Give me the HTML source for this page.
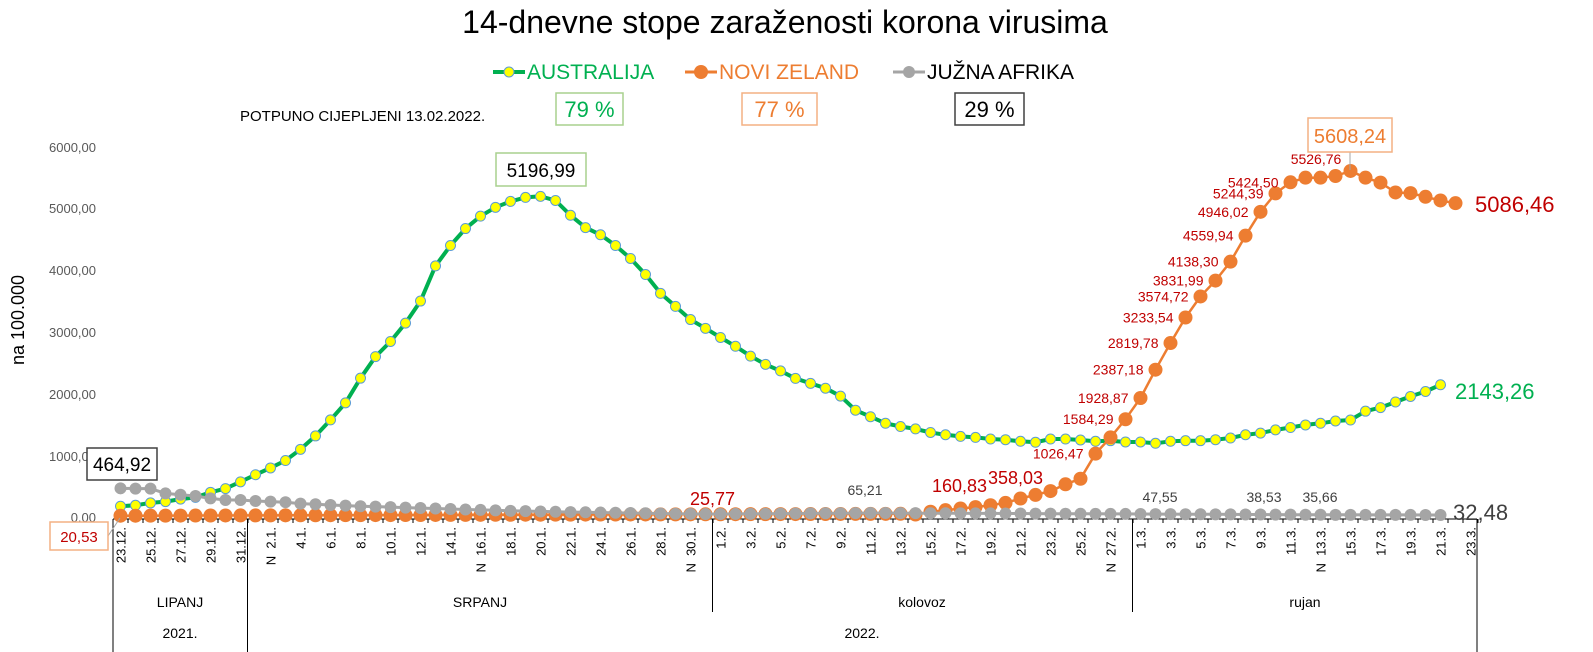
<!DOCTYPE html>
<html><head><meta charset="utf-8">
<style>
html,body{margin:0;padding:0;background:#fff;}
svg{display:block;font-family:"Liberation Sans",sans-serif;}
</style></head>
<body>
<svg id="s" width="1593" height="652" viewBox="0 0 1593 652" xmlns="http://www.w3.org/2000/svg">
<text x="785" y="33" text-anchor="middle" font-size="32" fill="#000">14-dnevne stope zaraženosti korona virusima</text>
<!-- legend -->
<line x1="493" y1="72" x2="525" y2="72" stroke="#00B050" stroke-width="4"/>
<circle cx="509" cy="72" r="5" fill="#FFFF00" stroke="#5B9BD5" stroke-width="1"/>
<text x="527" y="79" font-size="21" fill="#00B050">AUSTRALIJA</text>
<line x1="685" y1="72" x2="717" y2="72" stroke="#ED7D31" stroke-width="3"/>
<circle cx="701" cy="72" r="7" fill="#ED7D31"/>
<text x="719" y="79" font-size="21" fill="#ED7D31">NOVI ZELAND</text>
<line x1="893" y1="72" x2="925" y2="72" stroke="#A5A5A5" stroke-width="3"/>
<circle cx="909" cy="72" r="6" fill="#A5A5A5"/>
<text x="927" y="79" font-size="21" fill="#000">JUŽNA AFRIKA</text>
<text x="240" y="121" font-size="15" fill="#000">POTPUNO CIJEPLJENI 13.02.2022.</text>
<rect x="556" y="93" width="67" height="32" fill="#fff" stroke="#A9D18E" stroke-width="1.5"/>
<text x="589.5" y="117" text-anchor="middle" font-size="22" fill="#00B050">79 %</text>
<rect x="742" y="93" width="75" height="32" fill="#fff" stroke="#F4B183" stroke-width="1.5"/>
<text x="779.5" y="117" text-anchor="middle" font-size="22" fill="#ED7D31">77 %</text>
<rect x="955" y="93" width="69" height="32" fill="#fff" stroke="#404040" stroke-width="1.5"/>
<text x="989.5" y="117" text-anchor="middle" font-size="22" fill="#000">29 %</text>
<!-- y axis -->
<g font-size="13" fill="#595959" text-anchor="end">
<text x="96" y="152">6000,00</text>
<text x="96" y="213">5000,00</text>
<text x="96" y="275">4000,00</text>
<text x="96" y="337">3000,00</text>
<text x="96" y="399">2000,00</text>
<text x="96" y="461">1000,00</text>
<text x="96" y="522">0,00</text>
</g>
<text transform="translate(24,320) rotate(-90)" text-anchor="middle" font-size="18" fill="#000">na 100.000</text>
<g id="axis" stroke="#000" stroke-width="1"></g>
<g id="series"></g>
<g id="labels"></g>
</svg>
<script>
var NS="http://www.w3.org/2000/svg";
function el(p,n,a,t){var e=document.createElementNS(NS,n);for(var k in a)e.setAttribute(k,a[k]);if(t!==undefined)e.textContent=t;p.appendChild(e);return e;}
function X(i){return 120.5+i*15;}
function Y(v){return 517-v*0.0617;}
var green=[175,190,228,250,290,318,400,460,570,685,795,915,1097,1314,1574,1850,2250,2600,2845,3143,3500,4070,4400,4675,4876,5019,5115,5180,5197,5130,4890,4690,4574,4400,4190,3930,3625,3413,
3200,3058,2910,2767,2607,2474,2368,2246,2166,2087,1959,1731,1625,1519,1466,1428,1370,1333,1306,1290,1264,1253,1227,1211,1264,1264,1248,1227,1237,1216,1216,1195,1227,1237,1237,1253,1280,1333,1360,1412,1450,1492,1519,1556,1572,1715,1773,1864,1954,2034,2143.26];
var orange=[];
for(var i=0;i<=52;i++){orange.push(20.53+i*0.6);}
orange=orange.concat([40,85,111,138,160.83,191,228,300,358.03,420,530,620,1026.47,1290,1584.29,1928.87,2387.18,2819.78,3233.54,3574.72,3831.99,4138.30,4559.94,4946.02,5244.39,5424.50,5500,5500,5526.76,5608.24,5500,5420,5260,5250,5190,5130,5086.46]);
var grey=[464.92,460,460,382,360,340,302,276,276,260,250,240,217,207,195,185,175,168,160,152,145,138,130,122,115,108,100,95,90,85,80,76,72,68,64,60,56,53,50,48];
while(grey.length<89){var j=grey.length;var v=j<50?48+ (j-40)*1.7:(j<69?65-(j-50)*0.9:(j<80?47.5-(j-69)*1.1:35.6-(j-80)*0.35));grey.push(v);}
grey[88]=32.48;
var ax=document.getElementById('axis');
el(ax,'line',{x1:113,y1:519,x2:1477,y2:519});
for(var i=0;i<=91;i++){var x=113+i*15;el(ax,'line',{x1:x,y1:519,x2:x,y2:523});}
el(ax,'line',{x1:113,y1:519,x2:113,y2:652});
el(ax,'line',{x1:247.5,y1:519,x2:247.5,y2:652});
el(ax,'line',{x1:712.5,y1:519,x2:712.5,y2:612});
el(ax,'line',{x1:1132.5,y1:519,x2:1132.5,y2:612});
el(ax,'line',{x1:1477,y1:519,x2:1477,y2:652});
var lbl=["23.12.","25.12.","27.12.","29.12.","31.12.","N  2.1.","4.1.","6.1.","8.1.","10.1.","12.1.","14.1.","N  16.1.","18.1.","20.1.","22.1.","24.1.","26.1.","28.1.","N  30.1.","1.2.","3.2.","5.2.","7.2.","9.2.","11.2.","13.2.","15.2.","17.2.","19.2.","21.2.","23.2.","25.2.","N  27.2.","1.3.","3.3.","5.3.","7.3.","9.3.","11.3.","N  13.3.","15.3.","17.3.","19.3.","21.3.","23.3."];
var L=document.getElementById('labels');
lbl.forEach(function(t,k){var x=X(k*2)+5;var e=el(L,'text',{transform:'translate('+x+',527) rotate(-90)','text-anchor':'end','font-size':'13',fill:'#000','xml:space':'preserve'},t);e.style.whiteSpace='pre';});
[["LIPANJ",180,607],["SRPANJ",480,607],["kolovoz",922,607],["rujan",1305,607],["2021.",180,638],["2022.",862,638]].forEach(function(a){el(L,'text',{x:a[1],y:a[2],'text-anchor':'middle','font-size':'14',fill:'#000'},a[0]);});
var S=document.getElementById('series');
function series(d,col,w,r,fill,stroke){var p=d.map(function(v,i){return X(i).toFixed(1)+','+Y(v).toFixed(1);}).join(' ');
el(S,'polyline',{points:p,fill:'none',stroke:col,'stroke-width':w,'stroke-linejoin':'round'});
d.forEach(function(v,i){var a={cx:X(i),cy:Y(v),r:r,fill:fill};if(stroke){a.stroke=stroke;a['stroke-width']=1;}el(S,'circle',a);});}
series(green,'#00B050',4,5,'#FFFF00','#5B9BD5');
series(orange,'#ED7D31',2.5,7,'#ED7D31');
series(grey,'#A5A5A5',3,6,'#A5A5A5');
// annotations
el(L,'rect',{x:87,y:448,width:70,height:32,fill:'#fff',stroke:'#404040','stroke-width':1.5});
el(L,'text',{x:122,y:471,'text-anchor':'middle','font-size':'19',fill:'#000'},'464,92');
el(L,'line',{x1:108,y1:536,x2:120,y2:518,stroke:'#A5A5A5'});
el(L,'rect',{x:50,y:522,width:58,height:28,fill:'#fff',stroke:'#F4B183','stroke-width':1.5});
el(L,'text',{x:79,y:542,'text-anchor':'middle','font-size':'15',fill:'#C00000'},'20,53');
el(L,'rect',{x:496,y:153,width:90,height:33,fill:'#fff',stroke:'#A9D18E','stroke-width':1.5});
el(L,'text',{x:541,y:177,'text-anchor':'middle','font-size':'19',fill:'#000'},'5196,99');
el(L,'line',{x1:1350,y1:152,x2:1350,y2:170,stroke:'#A5A5A5'});
el(L,'rect',{x:1308,y:118,width:84,height:34,fill:'#fff',stroke:'#F4B183','stroke-width':1.5});
el(L,'text',{x:1350,y:143,'text-anchor':'middle','font-size':'20',fill:'#ED7D31'},'5608,24');
el(L,'text',{x:690,y:505,'font-size':'18',fill:'#C00000'},'25,77');
el(L,'text',{x:865,y:495,'text-anchor':'middle','font-size':'14',fill:'#404040'},'65,21');
el(L,'text',{x:932,y:492,'font-size':'18',fill:'#C00000'},'160,83');
el(L,'text',{x:988,y:484,'font-size':'18',fill:'#C00000'},'358,03');
[["47,55",1160],["38,53",1264],["35,66",1320]].forEach(function(a){el(L,'text',{x:a[1],y:502,'text-anchor':'middle','font-size':'14',fill:'#404040'},a[0]);});
el(L,'text',{x:1475,y:212,'font-size':'22',fill:'#C00000'},'5086,46');
el(L,'text',{x:1455,y:399,'font-size':'22',fill:'#00B050'},'2143,26');
el(L,'text',{x:1453,y:520,'font-size':'22',fill:'#404040'},'32,48');
var red=[[65,"1026,47"],[67,"1584,29"],[68,"1928,87"],[69,"2387,18"],[70,"2819,78"],[71,"3233,54"],[72,"3574,72"],[73,"3831,99"],[74,"4138,30"],[75,"4559,94"],[76,"4946,02"],[77,"5244,39"],[78,"5424,50"]];
red.forEach(function(a){var i=a[0];el(L,'text',{x:X(i)-12,y:Y(orange[i])+5,'text-anchor':'end','font-size':'14',fill:'#C00000'},a[1]);});
el(L,'text',{x:1316,y:164,'text-anchor':'middle','font-size':'14',fill:'#C00000'},'5526,76');
</script>
</body></html>
